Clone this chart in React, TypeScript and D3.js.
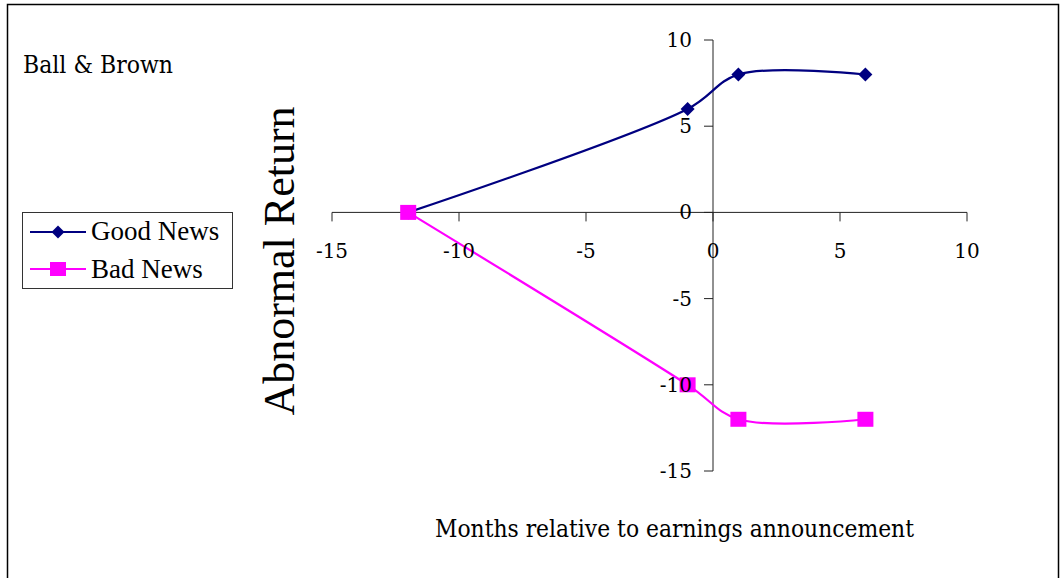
import React from "react";
import * as d3 from "d3";

const months = [-12, -1, 1, 6];
const goodNews = [0, 6, 8, 8];
const badNews = [0, -10, -12, -12];
const xTicks = [-15, -10, -5, 0, 5, 10];
const yTicks = [10, 5, 0, -5, -10, -15];

const W = 1060;
const H = 578;

export default function App() {
  const x = d3.scaleLinear().domain([-15, 10]).range([332, 967]);
  const y = d3.scaleLinear().domain([-15, 10]).range([471, 40]);
  const line = d3
    .line<[number, number]>()
    .x((d) => x(d[0]))
    .y((d) => y(d[1]))
    .curve(d3.curveCatmullRom.alpha(0.5));
  const good: [number, number][] = months.map((m, i) => [m, goodNews[i]]);
  const bad: [number, number][] = months.map((m, i) => [m, badNews[i]]);
  const gFont = "'DejaVu Serif', Georgia, serif";
  const tFont = "'Liberation Serif', 'Times New Roman', serif";
  const navy = "#000080";
  const magenta = "#FF00FF";
  const diamond = (cx: number, cy: number, r: number) =>
    `M${cx},${cy - r}L${cx + r},${cy}L${cx},${cy + r}L${cx - r},${cy}Z`;
  const x0 = x(0);
  const y0 = y(0);
  return (
    <svg
      width={W}
      height={H}
      style={{ position: "absolute", left: 0, top: 0, background: "#fff" }}
    >
      <rect x={7.5} y={4.5} width={1051} height={H + 10} fill="#fff" stroke="#000" strokeWidth={1.5} />
      <text
        x={23}
        y={73}
        fontFamily={gFont}
        fontSize={25}
        textLength={150}
        lengthAdjust="spacingAndGlyphs"
        fill="#000"
      >
        Ball &amp; Brown
      </text>
      {/* axes */}
      <g stroke="#222" strokeWidth={1} fill="none">
        <line x1={x(-15)} x2={x(10)} y1={y0} y2={y0} />
        <line x1={x0} x2={x0} y1={y(10)} y2={y(-15)} />
        {xTicks.map((t) => (
          <line key={"xt" + t} x1={x(t)} x2={x(t)} y1={y0} y2={y0 + 9} />
        ))}
        {yTicks.map((t) => (
          <line key={"yt" + t} x1={x0 - 9} x2={x0} y1={y(t)} y2={y(t)} />
        ))}
      </g>
      {/* series */}
      <path d={line(good) || ""} fill="none" stroke={navy} strokeWidth={2.2} />
      {good.map((d, i) => (
        <path key={"g" + i} d={diamond(x(d[0]), y(d[1]), 7)} fill={navy} />
      ))}
      <path d={line(bad) || ""} fill="none" stroke={magenta} strokeWidth={2.2} />
      {bad.map((d, i) => (
        <rect key={"b" + i} x={x(d[0]) - 8} y={y(d[1]) - 7.5} width={16} height={15} fill={magenta} />
      ))}
      {/* tick labels */}
      {xTicks.map((t) => (
        <text
          key={"xl" + t}
          x={x(t)}
          y={258}
          textAnchor="middle"
          fontFamily={gFont}
          fontSize={20}
          fill="#000"
        >
          {t}
        </text>
      ))}
      {yTicks.map((t) => (
        <text
          key={"yl" + t}
          x={692}
          y={y(t) + 7}
          textAnchor="end"
          fontFamily={gFont}
          fontSize={20}
          fill="#000"
        >
          {t}
        </text>
      ))}
      <text
        transform={`translate(294,261) rotate(-90)`}
        textAnchor="middle"
        fontFamily={tFont}
        fontSize={44}
        fill="#000"
      >
        Abnormal Return
      </text>
      <text
        x={435}
        y={537}
        fontFamily={gFont}
        fontSize={25}
        textLength={479}
        lengthAdjust="spacingAndGlyphs"
        fill="#000"
      >
        Months relative to earnings announcement
      </text>
      {/* legend */}
      <rect x={22.5} y={212.5} width={210} height={76} fill="#fff" stroke="#333" strokeWidth={1} />
      <line x1={30} x2={86} y1={232} y2={232} stroke={navy} strokeWidth={2.2} />
      <path d={diamond(58, 232, 6.5)} fill={navy} />
      <text x={91} y={240} fontFamily={tFont} fontSize={27} fill="#000">
        Good News
      </text>
      <line x1={30} x2={86} y1={269} y2={269} stroke={magenta} strokeWidth={2.2} />
      <rect x={50} y={262} width={16} height={14} fill={magenta} />
      <text x={91} y={278} fontFamily={tFont} fontSize={27} fill="#000">
        Bad News
      </text>
    </svg>
  );
}
